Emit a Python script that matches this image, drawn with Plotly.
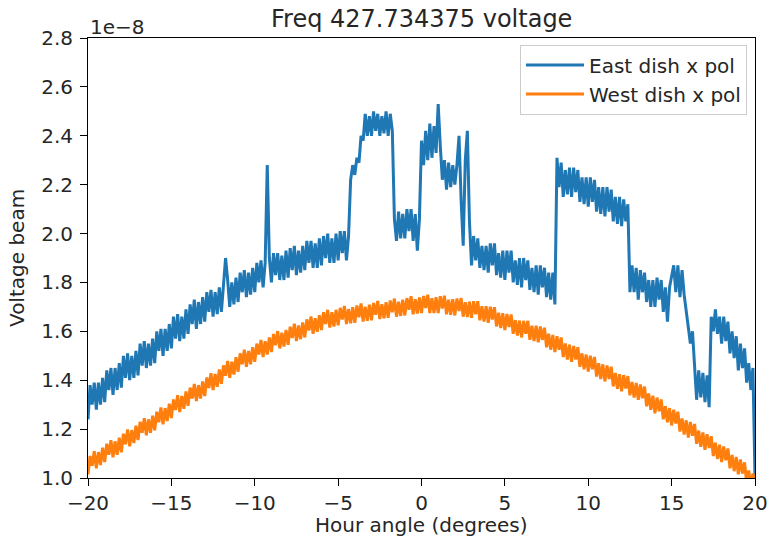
import numpy as np
import plotly.graph_objects as go

# Hour angle sampling grid (degrees), 8 samples per degree
hour_angle = np.linspace(-20, 20, 321)

# East dish x pol (units of 1e-8); one row per degree
east_dish = [
    1.24, 1.38, 1.30, 1.39, 1.28, 1.39, 1.30, 1.41,  # -20
    1.31, 1.44, 1.36, 1.45, 1.34, 1.45, 1.36, 1.47,  # -19
    1.37, 1.50, 1.41, 1.51, 1.40, 1.50, 1.41, 1.52,  # -18
    1.42, 1.55, 1.46, 1.56, 1.45, 1.55, 1.46, 1.57,  # -17
    1.47, 1.60, 1.52, 1.61, 1.50, 1.61, 1.52, 1.63,  # -16
    1.53, 1.66, 1.57, 1.67, 1.56, 1.66, 1.57, 1.69,  # -15
    1.59, 1.71, 1.63, 1.73, 1.61, 1.72, 1.63, 1.74,  # -14
    1.64, 1.76, 1.68, 1.77, 1.66, 1.76, 1.67, 1.78,  # -13
    1.68, 1.80, 1.90, 1.81, 1.70, 1.80, 1.71, 1.82,  # -12
    1.72, 1.84, 1.76, 1.85, 1.74, 1.84, 1.75, 1.86,  # -11
    1.76, 1.88, 1.80, 1.89, 1.78, 1.88, 2.28, 1.90,  # -10
    1.80, 1.92, 1.83, 1.92, 1.81, 1.91, 1.81, 1.93,  # -9
    1.82, 1.94, 1.85, 1.95, 1.83, 1.93, 1.84, 1.95,  # -8
    1.85, 1.97, 1.88, 1.97, 1.86, 1.96, 1.86, 1.98,  # -7
    1.87, 1.99, 1.90, 2.00, 1.88, 1.98, 1.88, 2.00,  # -6
    1.89, 2.01, 1.92, 2.01, 1.89, 1.99, 2.22, 2.28,  # -5
    2.24, 2.31, 2.29, 2.40, 2.38, 2.49, 2.40, 2.48,  # -4
    2.40, 2.50, 2.42, 2.49, 2.40, 2.48, 2.41, 2.50,  # -3
    2.40, 2.49, 2.42, 2.06, 1.97, 2.09, 1.98, 2.08,  # -2
    1.98, 2.10, 2.01, 2.10, 1.97, 2.08, 1.93, 2.06,  # -1
    2.38, 2.28, 2.42, 2.30, 2.45, 2.31, 2.44, 2.33,  # 0
    2.53, 2.36, 2.22, 2.30, 2.18, 2.29, 2.19, 2.28,  # 1
    2.20, 2.28, 2.40, 2.14, 1.95, 2.30, 2.42, 2.05,  # 2
    1.87, 1.99, 1.89, 1.98, 1.86, 1.95, 1.85, 1.95,  # 3
    1.84, 1.96, 1.87, 1.96, 1.83, 1.92, 1.82, 1.93,  # 4
    1.81, 1.93, 1.84, 1.93, 1.80, 1.89, 1.79, 1.90,  # 5
    1.78, 1.90, 1.81, 1.89, 1.77, 1.86, 1.76, 1.87,  # 6
    1.75, 1.87, 1.78, 1.86, 1.74, 1.84, 1.73, 1.84,  # 7
    1.71, 2.31, 2.19, 2.29, 2.15, 2.26, 2.16, 2.27,  # 8
    2.15, 2.27, 2.17, 2.26, 2.13, 2.23, 2.12, 2.23,  # 9
    2.11, 2.23, 2.13, 2.22, 2.09, 2.19, 2.08, 2.19,  # 10
    2.07, 2.19, 2.09, 2.18, 2.05, 2.15, 2.04, 2.15,  # 11
    2.03, 2.14, 2.05, 2.12, 1.76, 1.87, 1.76, 1.86,  # 12
    1.73, 1.85, 1.76, 1.84, 1.72, 1.81, 1.70, 1.81,  # 13
    1.70, 1.82, 1.73, 1.81, 1.68, 1.78, 1.64, 1.78,  # 14
    1.82, 1.87, 1.76, 1.87, 1.74, 1.85, 1.75, 1.68,  # 15
    1.62, 1.55, 1.60, 1.43, 1.32, 1.44, 1.33, 1.43,  # 16
    1.31, 1.42, 1.29, 1.66, 1.60, 1.69, 1.59, 1.66,  # 17
    1.55, 1.66, 1.56, 1.64, 1.51, 1.60, 1.49, 1.58,  # 18
    1.44, 1.55, 1.45, 1.53, 1.39, 1.47, 1.36, 1.45,  # 19
    1.00,                                            # 20
]

# West dish x pol (units of 1e-8)
west_dish = [
    1.015, 1.090, 1.050, 1.110, 1.040, 1.106, 1.053, 1.124,  # -20
    1.065, 1.140, 1.095, 1.155, 1.085, 1.150, 1.095, 1.165,  # -19
    1.105, 1.181, 1.138, 1.199, 1.130, 1.196, 1.143, 1.214,  # -18
    1.155, 1.230, 1.185, 1.245, 1.175, 1.240, 1.185, 1.255,  # -17
    1.195, 1.271, 1.228, 1.289, 1.220, 1.286, 1.233, 1.304,  # -16
    1.245, 1.321, 1.278, 1.339, 1.270, 1.336, 1.283, 1.354,  # -15
    1.295, 1.370, 1.325, 1.385, 1.315, 1.380, 1.325, 1.395,  # -14
    1.335, 1.411, 1.368, 1.429, 1.360, 1.426, 1.373, 1.444,  # -13
    1.385, 1.461, 1.418, 1.479, 1.410, 1.476, 1.423, 1.494,  # -12
    1.435, 1.510, 1.465, 1.525, 1.455, 1.520, 1.465, 1.535,  # -11
    1.475, 1.550, 1.505, 1.565, 1.495, 1.560, 1.505, 1.575,  # -10
    1.515, 1.589, 1.543, 1.601, 1.530, 1.594, 1.538, 1.606,  # -9
    1.545, 1.619, 1.573, 1.631, 1.560, 1.624, 1.568, 1.636,  # -8
    1.575, 1.649, 1.603, 1.661, 1.590, 1.654, 1.598, 1.666,  # -7
    1.605, 1.678, 1.630, 1.688, 1.615, 1.678, 1.620, 1.688,  # -6
    1.625, 1.696, 1.648, 1.704, 1.630, 1.691, 1.633, 1.699,  # -5
    1.635, 1.706, 1.658, 1.714, 1.640, 1.701, 1.643, 1.709,  # -4
    1.645, 1.716, 1.668, 1.724, 1.650, 1.711, 1.653, 1.719,  # -3
    1.655, 1.726, 1.678, 1.734, 1.660, 1.721, 1.663, 1.729,  # -2
    1.665, 1.736, 1.688, 1.744, 1.670, 1.731, 1.673, 1.739,  # -1
    1.675, 1.745, 1.695, 1.750, 1.675, 1.735, 1.675, 1.740,  # 0
    1.675, 1.744, 1.693, 1.746, 1.670, 1.729, 1.668, 1.731,  # 1
    1.665, 1.734, 1.683, 1.736, 1.660, 1.719, 1.658, 1.721,  # 2
    1.655, 1.723, 1.670, 1.723, 1.645, 1.703, 1.640, 1.703,  # 3
    1.635, 1.701, 1.648, 1.699, 1.620, 1.676, 1.613, 1.674,  # 4
    1.605, 1.671, 1.618, 1.669, 1.590, 1.646, 1.583, 1.644,  # 5
    1.575, 1.643, 1.590, 1.643, 1.565, 1.623, 1.560, 1.623,  # 6
    1.555, 1.620, 1.565, 1.615, 1.535, 1.590, 1.525, 1.585,  # 7
    1.515, 1.580, 1.525, 1.575, 1.495, 1.550, 1.485, 1.545,  # 8
    1.475, 1.540, 1.485, 1.535, 1.455, 1.510, 1.445, 1.505,  # 9
    1.435, 1.500, 1.445, 1.495, 1.415, 1.470, 1.405, 1.465,  # 10
    1.395, 1.460, 1.405, 1.455, 1.375, 1.430, 1.365, 1.425,  # 11
    1.355, 1.421, 1.366, 1.417, 1.338, 1.393, 1.329, 1.389,  # 12
    1.320, 1.383, 1.326, 1.374, 1.293, 1.346, 1.279, 1.337,  # 13
    1.265, 1.329, 1.273, 1.321, 1.240, 1.294, 1.228, 1.286,  # 14
    1.215, 1.279, 1.223, 1.271, 1.190, 1.244, 1.178, 1.236,  # 15
    1.165, 1.229, 1.173, 1.221, 1.140, 1.194, 1.128, 1.186,  # 16
    1.115, 1.179, 1.123, 1.171, 1.090, 1.144, 1.078, 1.136,  # 17
    1.065, 1.129, 1.073, 1.121, 1.040, 1.094, 1.028, 1.086,  # 18
    1.015, 1.076, 1.018, 1.064, 0.980, 1.031, 0.963, 1.019,  # 19
    0.970,                                                   # 20
]

assert len(east_dish) == len(hour_angle) == len(west_dish)

x_ticks = [-20, -15, -10, -5, 0, 5, 10, 15, 20]
y_ticks = [1.0, 1.2, 1.4, 1.6, 1.8, 2.0, 2.2, 2.4, 2.6, 2.8]

FONT = "DejaVu Sans"
TXT = "#262626"

fig = go.Figure()
fig.add_trace(go.Scatter(x=hour_angle, y=east_dish, mode="lines",
                         name="East dish x pol",
                         line=dict(color="#1f77b4", width=3)))
fig.add_trace(go.Scatter(x=hour_angle, y=west_dish, mode="lines",
                         name="West dish x pol",
                         line=dict(color="#ff7f0e", width=3)))

axis_common = dict(showline=True, linecolor="black", linewidth=1, mirror=True,
                   ticks="outside", ticklen=7, tickwidth=1, tickcolor="black",
                   showgrid=False, zeroline=False, automargin=False,
                   ticklabeloverflow="allow",
                   tickfont=dict(family=FONT, size=20, color=TXT))

fig.update_layout(
    width=769, height=537,
    margin=dict(l=88, r=14, t=38, b=59),
    paper_bgcolor="white", plot_bgcolor="white",
    xaxis=dict(range=[-20, 20], tickvals=x_ticks, **axis_common),
    yaxis=dict(range=[1.0, 2.8], tickvals=y_ticks, tickformat=".1f",
               ticklabelstandoff=3, **axis_common),
    legend=dict(x=0.988, y=0.985, xanchor="right", yanchor="top",
                bgcolor="rgba(255,255,255,0.8)", bordercolor="#cccccc",
                borderwidth=1, font=dict(family=FONT, size=20, color=TXT),
                itemwidth=58, tracegroupgap=0),
    showlegend=True,
)

# title and axis titles placed as in the reference
fig.add_annotation(text="Freq 427.734375 voltage", xref="paper", yref="paper",
                   x=0.5, y=1.0, xanchor="center", yanchor="bottom", yshift=3,
                   showarrow=False, font=dict(family=FONT, size=24, color=TXT))
fig.add_annotation(text="Hour angle (degrees)", xref="paper", yref="paper",
                   x=0.5, y=0, xanchor="center", yanchor="top", yshift=-33,
                   showarrow=False, font=dict(family=FONT, size=20, color=TXT))
fig.add_annotation(text="Voltage beam", xref="paper", yref="paper",
                   x=0, y=0.5, xanchor="right", yanchor="middle", xshift=-57,
                   textangle=-90, showarrow=False,
                   font=dict(family=FONT, size=20, color=TXT))
fig.add_annotation(text="1e\u22128", xref="paper", yref="paper", x=0, y=1.0,
                   xanchor="left", yanchor="bottom", showarrow=False,
                   font=dict(family=FONT, size=20, color=TXT), yshift=-3)

fig.write_html("out.html")
